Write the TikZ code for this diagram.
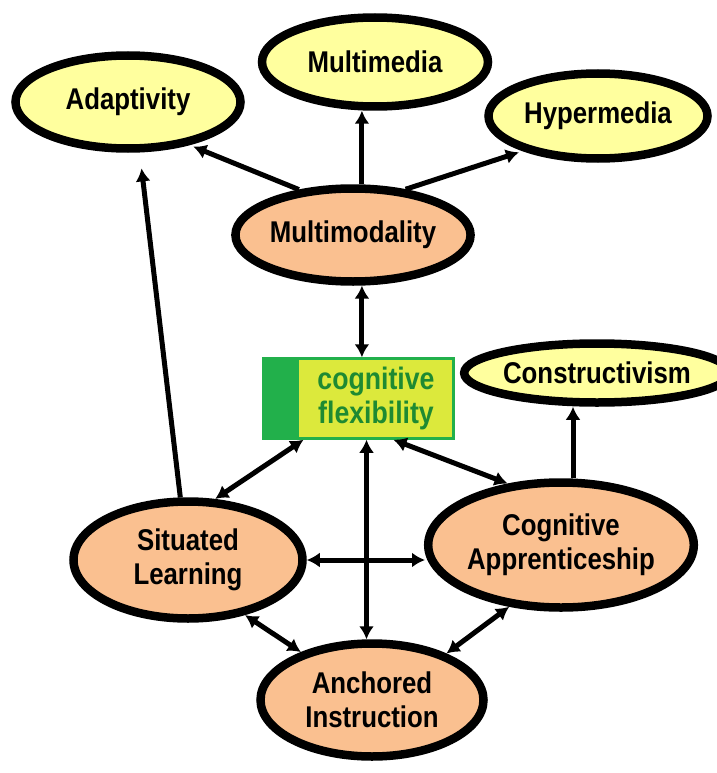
\documentclass[tikz,border=0pt]{standalone}
\usepackage{fontspec}
\setmainfont{Liberation Sans}
\usetikzlibrary{shapes.geometric,arrows.meta}
\definecolor{conceptyellow}{HTML}{FFFF9E}
\definecolor{conceptpeach}{HTML}{FAC090}
\definecolor{boxyellow}{HTML}{DCE93C}
\definecolor{boxgreen}{HTML}{22B04B}
\definecolor{textgreen}{HTML}{1E8A32}
\newfontfamily\labelfont[FakeStretch=0.86]{Liberation Sans}
\begin{document}
\begin{tikzpicture}[x=1pt,y=-1pt,
  concept/.style={ellipse, draw=black, line width=8.5pt, inner sep=0pt,
    font=\labelfont\fontsize{30}{34}\selectfont\bfseries, align=center},
  outerconcept/.style={concept, fill=conceptyellow},
  innerconcept/.style={concept, fill=conceptpeach},
  tip/.tip={Latex[length=13pt,width=15pt]},
  link/.style={line width=5pt, -tip},
  twoway/.style={line width=5pt, tip-tip}
]
\useasboundingbox (0,0) rectangle (716,773);

% outer ring of concepts
\node[outerconcept, minimum width=225pt, minimum height=93pt] (ad) at (128,102) {Adaptivity};
\node[outerconcept, minimum width=226pt, minimum height=89pt] (md) at (375,62) {Multimedia};
\node[outerconcept, minimum width=219pt, minimum height=85pt] (hy) at (598,116) {Hypermedia};
\node[outerconcept, minimum width=220pt, minimum height=59pt] (co) at (597,373) {Constructivism};

% inner concepts
\node[innerconcept, minimum width=226pt, minimum height=93pt] (mm) at (353,235) {Multimodality};
\node[innerconcept, minimum width=229pt, minimum height=117pt] (sl) at (188,560) {Situated\\Learning};
\node[innerconcept, minimum width=229pt, minimum height=125pt] (ca) at (561,545) {Cognitive\\Apprenticeship};
\node[innerconcept, minimum width=223pt, minimum height=113pt] (an) at (372,700) {Anchored\\Instruction};

% central box with a green strip on its left side
\node[draw=boxgreen, line width=2.5pt, fill=boxyellow, minimum width=190pt,
  minimum height=80pt, inner sep=0pt,
  path picture={\fill[boxgreen] (path picture bounding box.north west)
    rectangle ([xshift=35pt]path picture bounding box.south west);}] (cf) at (358.5,398.5)
  {\hspace*{35pt}\parbox{155pt}{\centering\color{textgreen}\labelfont\fontsize{31}{34}\selectfont\bfseries cognitive\\flexibility}};

% helper points for straight vertical and horizontal links
\coordinate (cfv) at ([xshift=8pt]cf.south);
\coordinate (cat) at ([xshift=12pt]ca.north);
\coordinate (hx) at (425,565);

% links
\draw[link, shorten >=4pt] (mm.140) -- (ad.-35);
\draw[link] (mm.80) -- (mm.80 |- md.south);
\draw[link, shorten >=4pt] (mm.41) -- (hy.205);
\draw[twoway] (mm.-80) -- (mm.-80 |- cf.north);
\draw[link, shorten >=16pt] (sl.97) -- (ad.-77);
\draw[twoway] ([xshift=-55pt]cf.south) -- (sl.66);
\draw[twoway] ([xshift=35pt]cf.south) -- (ca.131);
\draw[twoway] (cfv) -- (cfv |- an.north);
\draw[link] (cat) -- (cat |- co.south);
\draw[twoway] (sl.east) -- (sl.east -| hx);
\draw[twoway] (sl.-44) -- (an.146);
\draw[twoway] (an.32) -- (ca.-130);
\end{tikzpicture}
\end{document}
